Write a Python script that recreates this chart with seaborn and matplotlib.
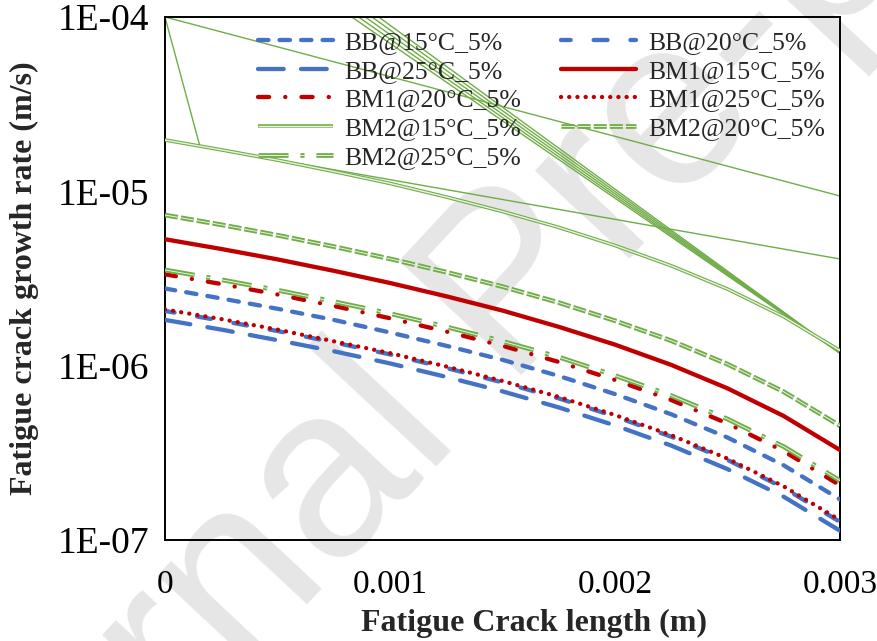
import matplotlib
matplotlib.use("Agg")
import matplotlib.pyplot as plt
import matplotlib.ticker as mticker
from matplotlib.lines import Line2D
from matplotlib.legend_handler import HandlerTuple
import pandas as pd
import seaborn as sns

# Crack length (m) and growth rate (m/s) for each specimen/temperature
crack_length = [0.0, 0.00025, 0.0005, 0.00075, 0.001, 0.00125, 0.0015,
                0.00175, 0.002, 0.00225, 0.0025, 0.00275, 0.003]

bb_15 = [2.77e-6, 2.43e-6, 2.12e-6, 1.83e-6, 1.55e-6, 1.30e-6, 1.08e-6,
         8.73e-7, 6.87e-7, 5.26e-7, 3.87e-7, 2.68e-7, 1.71e-7]
bb_20 = [2.06e-6, 1.81e-6, 1.58e-6, 1.36e-6, 1.16e-6, 9.70e-7, 8.01e-7,
         6.49e-7, 5.11e-7, 3.91e-7, 2.88e-7, 1.99e-7, 1.27e-7]
bb_25 = [1.83e-6, 1.61e-6, 1.40e-6, 1.21e-6, 1.03e-6, 8.62e-7, 7.12e-7,
         5.76e-7, 4.54e-7, 3.48e-7, 2.55e-7, 1.77e-7, 1.13e-7]
bm1_15 = [5.31e-6, 4.67e-6, 4.07e-6, 3.50e-6, 2.98e-6, 2.50e-6, 2.07e-6,
          1.67e-6, 1.32e-6, 1.01e-6, 7.41e-7, 5.14e-7, 3.28e-7]
bm1_20 = [3.34e-6, 2.94e-6, 2.56e-6, 2.20e-6, 1.87e-6, 1.57e-6, 1.30e-6,
          1.05e-6, 8.28e-7, 6.35e-7, 4.66e-7, 3.23e-7, 2.06e-7]
bm1_25 = [2.10e-6, 1.85e-6, 1.61e-6, 1.38e-6, 1.18e-6, 9.89e-7, 8.17e-7,
          6.62e-7, 5.21e-7, 3.99e-7, 2.93e-7, 2.03e-7, 1.30e-7]
bm2_15 = [1.97e-5, 1.73e-5, 1.51e-5, 1.30e-5, 1.11e-5, 9.28e-6, 7.66e-6,
          6.21e-6, 4.89e-6, 3.74e-6, 2.75e-6, 1.91e-6, 1.22e-6]
bm2_20 = [7.31e-6, 6.43e-6, 5.60e-6, 4.82e-6, 4.10e-6, 3.44e-6, 2.84e-6,
          2.30e-6, 1.81e-6, 1.39e-6, 1.02e-6, 7.08e-7, 4.52e-7]
bm2_25 = [3.54e-6, 3.11e-6, 2.71e-6, 2.33e-6, 1.99e-6, 1.67e-6, 1.38e-6,
          1.12e-6, 8.78e-7, 6.73e-7, 4.94e-7, 3.43e-7, 2.19e-7]

# Stray connector strokes of the BM2@15 compound line (start, end)
bm2_15_spur_x = [(0.0, 0.003), (0.0, 0.000156), (0.0, 0.003),
                 (0.00083, 0.003), (0.00086, 0.003), (0.00089, 0.003),
                 (0.00092, 0.003), (0.00095, 0.003)]
bm2_15_spur_y = [(1.0e-4, 9.4e-6), (1.0e-4, 1.80e-5), (1.97e-5, 4.09e-6),
                 (1.0e-4, 1.18e-6), (1.0e-4, 1.18e-6), (1.0e-4, 1.18e-6),
                 (1.0e-4, 1.18e-6), (1.0e-4, 1.18e-6)]

series_labels = ["BB@15°C_5%", "BB@20°C_5%", "BB@25°C_5%",
                 "BM1@15°C_5%", "BM1@20°C_5%", "BM1@25°C_5%",
                 "BM2@15°C_5%", "BM2@20°C_5%", "BM2@25°C_5%"]
series_values = [bb_15, bb_20, bb_25, bm1_15, bm1_20, bm1_25,
                 bm2_15, bm2_20, bm2_25]

x_ticks = [0.0, 0.001, 0.002, 0.003]
x_tick_labels = ["0", "0.001", "0.002", "0.003"]
y_ticks = [1e-7, 1e-6, 1e-5, 1e-4]

BLUE, RED, GREEN = "#4472C4", "#C00000", "#70AD47"
LW = 3.1

# style per series: colour, dash pattern (points), cap style, double-line flag
styles = {
    "BB@15°C_5%": dict(color=BLUE, ls=(0, (7.5, 8.0)), cap="round", double=False),
    "BB@20°C_5%": dict(color=BLUE, ls=(3.0, (10.0, 16.5)), cap="round", double=False),
    "BB@25°C_5%": dict(color=BLUE, ls=(0, (18.5, 12.5)), cap="round", double=False),
    "BM1@15°C_5%": dict(color=RED, ls="-", cap="round", double=False),
    "BM1@20°C_5%": dict(color=RED, ls=(0, (8.0, 11.6, 0.1, 11.6)), cap="round", double=False),
    "BM1@25°C_5%": dict(color=RED, ls=(0, (0.1, 5.8)), cap="round", double=False),
    "BM2@15°C_5%": dict(color=GREEN, ls="-", cap="butt", double=True),
    "BM2@20°C_5%": dict(color=GREEN, ls=(0, (9.4, 2.2)), cap="butt", double=True),
    "BM2@25°C_5%": dict(color=GREEN, ls=(0, (21.6, 8.6, 2.9, 8.6)), cap="butt", double=True),
}


def line_width(label):
    if label == "BM2@15°C_5%":
        return 2.6
    return 3.4 if styles[label]["double"] else LW


def inner_width(label):
    return 1.0 if label == "BM2@15°C_5%" else 0.7


records = []
for label, vals in zip(series_labels, series_values):
    for xv, yv in zip(crack_length, vals):
        records.append((label, xv, yv))
df = pd.DataFrame(records, columns=["series", "crack_length", "rate"])

sns.set_theme(style="white")
plt.rcParams["font.family"] = ["Liberation Serif", "DejaVu Serif"]
plt.rcParams["lines.scale_dashes"] = False

fig = plt.figure(figsize=(8.77, 6.41), dpi=100)
fig.patch.set_facecolor("white")
ax = fig.add_axes([0.1881, 0.1576, 0.7697, 0.8159])
ax.set_facecolor("none")

# background watermark
fig.text(0.585, 0.545, "Journal Pre-proof", rotation=47, rotation_mode="anchor",
         ha="center", va="center", fontsize=175, color="#e6e6e6",
         family=["Liberation Sans", "DejaVu Sans"], zorder=-10)

# stray connector strokes
for (x0, x1), (y0, y1) in zip(bm2_15_spur_x, bm2_15_spur_y):
    sns.lineplot(x=[x0, x1], y=[y0, y1], ax=ax, color=GREEN, lw=1.0,
                 sort=False, legend=False, zorder=2)

order_z = {"BM2@15°C_5%": 3}
for label in series_labels:
    st = styles[label]
    sub = df[df["series"] == label]
    sns.lineplot(data=sub, x="crack_length", y="rate", ax=ax, color=st["color"],
                 lw=line_width(label), linestyle=st["ls"], legend=False,
                 dash_capstyle=st["cap"], solid_capstyle=st["cap"],
                 zorder=order_z.get(label, 4))
    if st["double"]:
        sns.lineplot(data=sub, x="crack_length", y="rate", ax=ax, color="white",
                     lw=inner_width(label), alpha=0.85, linestyle=st["ls"],
                     legend=False, dash_capstyle="butt", solid_capstyle="butt",
                     zorder=order_z.get(label, 4))

ax.set_yscale("log")
ax.set_xlim(0, 0.003)
ax.set_ylim(1e-7, 1e-4)
ax.set_xticks(x_ticks)
ax.set_xticklabels(x_tick_labels)
ax.set_yticks(y_ticks)
ax.yaxis.set_major_formatter(mticker.FuncFormatter(lambda v, p: f"{v:.0E}"))
ax.yaxis.set_minor_locator(mticker.NullLocator())
ax.tick_params(axis="both", which="major", direction="out", length=5, width=1.4,
               color="black", labelcolor="black")
ax.tick_params(axis="y", labelsize=27, pad=6)
ax.tick_params(axis="x", labelsize=24, pad=16)
for sp in ax.spines.values():
    sp.set_visible(True)
    sp.set_color("black")
    sp.set_linewidth(1.4)

ax.set_xlabel("Fatigue Crack length (m)", fontsize=23, fontweight="bold")
ax.set_ylabel("Fatigue crack growth rate (m/s)", fontsize=23, fontweight="bold")
ax.xaxis.set_label_coords(0.546, -0.132)
ax.yaxis.set_label_coords(-0.186, 0.5)

# legend handles (row-major order rearranged to fill two columns)
handles = {}
for label in series_labels:
    st = styles[label]
    base = Line2D([], [], color=st["color"], lw=line_width(label), linestyle=st["ls"],
                  dash_capstyle=st["cap"], solid_capstyle=st["cap"])
    if st["double"]:
        inner = Line2D([], [], color="white", lw=inner_width(label), alpha=0.85,
                       linestyle=st["ls"], dash_capstyle="butt", solid_capstyle="butt")
        handles[label] = (base, inner)
    else:
        handles[label] = base

col_order = ["BB@15°C_5%", "BB@25°C_5%", "BM1@20°C_5%", "BM2@15°C_5%", "BM2@25°C_5%",
             "BB@20°C_5%", "BM1@15°C_5%", "BM1@25°C_5%", "BM2@20°C_5%"]
leg = ax.legend([handles[l] for l in col_order], col_order, ncol=2,
                loc="upper left", bbox_to_anchor=(0.138, 0.973), frameon=False,
                fontsize=18.5, handlelength=2.9, handletextpad=0.47,
                columnspacing=1.55, labelspacing=0.22, borderpad=0, borderaxespad=0,
                handler_map={tuple: HandlerTuple(ndivide=1)})

fig.savefig("out.png", dpi=100, facecolor="white")
